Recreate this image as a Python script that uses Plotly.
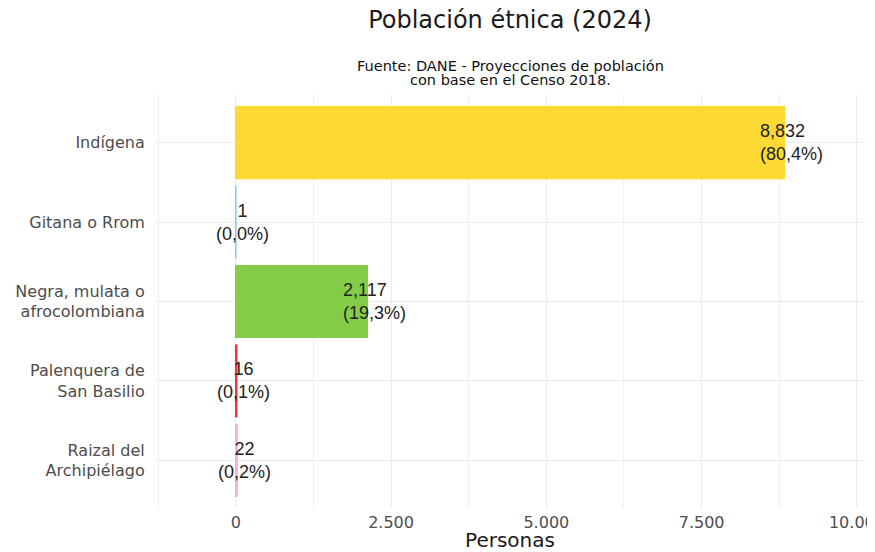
import plotly.graph_objects as go

categories = ["Indígena", "Gitana o Rrom", "Negra, mulata o<br>afrocolombiana",
              "Palenquera de<br>San Basilio", "Raizal del<br>Archipiélago"]
values = [8832, 1, 2117, 16, 22]
colors = ["#FDDA33", "#8CCDEB", "#85CC49", "#E8393D", "#F6B2D8"]
x_tickvals = [0, 2500, 5000, 7500, 10000]
x_ticktext = ["0", "2.500", "5.000", "7.500", "10.000"]
subtitle_lines = ["Fuente: DANE - Proyecciones de población", "con base en el Censo 2018."]

total = sum(values)
num_labels = [f"{v:,}" for v in values]
pct_labels = ["(" + f"{v / total * 100:.1f}".replace(".", ",") + "%)" for v in values]

# page body has an 8px default margin, so the figure is 8px smaller than the window
W, H = 867, 544

fig = go.Figure()
fig.add_trace(go.Bar(
    x=values, y=categories, orientation="h",
    marker=dict(color=colors, line=dict(color=colors, width=1.6)),
    width=0.9, showlegend=False, hoverinfo="x+y",
))

for v, c, n, p in zip(values, categories, num_labels, pct_labels):
    fig.add_annotation(
        x=v, y=c, xref="x", yref="y",
        text=f"{n}<br>{p}", showarrow=False,
        xanchor="center", yanchor="middle", xshift=7,
        align="left" if len(n) >= 4 else "center",
        font=dict(family="Liberation Sans, Arial", size=18, color="#222222"),
    )

for line, ypos in zip(subtitle_lines, [1.0702, 1.0363]):
    fig.add_annotation(
        x=0.5, y=ypos, xref="paper", yref="paper",
        text=line, showarrow=False, xanchor="center", yanchor="middle",
        font=dict(family="DejaVu Sans, Verdana", size=14.5, color="#111111"),
    )

fig.update_layout(
    width=W, height=H,
    margin=dict(l=147, r=10, t=87, b=44, autoexpand=False),
    paper_bgcolor="white", plot_bgcolor="white",
    title=dict(text="Población étnica (2024)", x=0.5, xref="paper",
               y=1 - 12 / H, yref="container", yanchor="middle",
               font=dict(family="DejaVu Sans, Verdana", size=24, color="#1a1a1a")),
    bargap=0.1,
)

fig.update_xaxes(
    range=[-1300, 10130], tickvals=x_tickvals, ticktext=x_ticktext,
    automargin=False, ticklabeloverflow="allow",
    showgrid=True, gridcolor="#EBEBEB", gridwidth=1.3, zeroline=False,
    minor=dict(showgrid=True, dtick=1250, tick0=0, gridcolor="#EFEFEF", gridwidth=1),
    ticks="outside", ticklen=0, tickcolor="rgba(0,0,0,0)",
    tickfont=dict(family="DejaVu Sans, Verdana", size=16, color="#4D4D4D"),
    title=dict(text="Personas", standoff=0,
               font=dict(family="DejaVu Sans, Verdana", size=20, color="#1a1a1a")),
    showline=False,
)
fig.update_yaxes(
    categoryorder="array", categoryarray=categories[::-1],
    range=[-0.6, 4.6], automargin=False,
    showgrid=True, gridcolor="#EBEBEB", gridwidth=1.3, zeroline=False,
    ticks="outside", ticklen=6, tickcolor="rgba(0,0,0,0)",
    tickfont=dict(family="DejaVu Sans, Verdana", size=16, color="#4D4D4D"),
    showline=False,
)

fig.write_html("out.html")
